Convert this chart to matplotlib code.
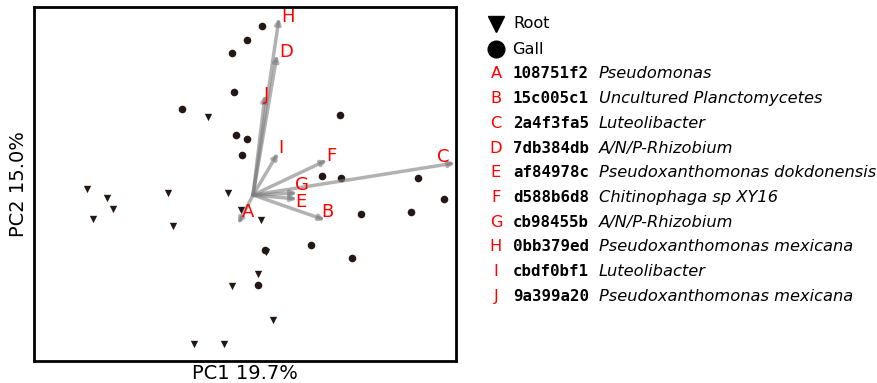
import matplotlib
matplotlib.use('Agg')
import matplotlib.pyplot as plt
from matplotlib.lines import Line2D

# sample scores (PC1, PC2)
gall_x = [0.09, -0.06, -0.21, -0.19, -0.71, -0.17, -0.06, -0.11, 0.87, 0.69, 0.88, 1.65, 1.91, 1.58, 1.08, 0.58, 0.99, 0.12, 0.05]
gall_y = [1.69, 1.55, 1.42, 1.03, 0.86, 0.60, 0.56, 0.40, 0.80, 0.19, 0.17, 0.17, -0.04, -0.17, -0.19, -0.50, -0.63, -0.55, -0.90]
root_x = [-0.45, -1.66, -1.46, -1.40, -1.60, -0.85, -0.80, -0.25, -0.12, 0.08, 0.13, 0.05, -0.21, 0.20, -0.59, -0.29]
root_y = [0.78, 0.06, -0.03, -0.14, -0.24, 0.02, -0.31, 0.02, -0.15, -0.25, -0.57, -0.79, -0.91, -1.25, -1.49, -1.49]

# loadings
letters = ['A', 'B', 'C', 'D', 'E', 'F', 'G', 'H', 'I', 'J']
load_x = [-0.15, 0.72, 2.02, 0.24, 0.44, 0.74, 0.44, 0.26, 0.25, 0.12]
load_y = [-0.29, -0.25, 0.32, 1.40, -0.04, 0.35, 0.02, 1.77, 0.42, 1.00]
label_x = [-0.05, 0.74, 1.90, 0.33, 0.48, 0.78, 0.49, 0.35, 0.28, 0.14]
label_y = [-0.17, -0.17, 0.38, 1.43, -0.07, 0.39, 0.10, 1.78, 0.47, 1.00]
otu_ids = ['108751f2', '15c005c1', '2a4f3fa5', '7db384db', 'af84978c',
           'd588b6d8', 'cb98455b', '0bb379ed', 'cbdf0bf1', '9a399a20']
taxa = ['Pseudomonas', 'Uncultured Planctomycetes', 'Luteolibacter', 'A/N/P-Rhizobium',
        'Pseudoxanthomonas dokdonensis', 'Chitinophaga sp XY16', 'A/N/P-Rhizobium',
        'Pseudoxanthomonas mexicana', 'Luteolibacter', 'Pseudoxanthomonas mexicana']

fig = plt.figure(figsize=(8.77, 3.83), dpi=100)
ax = fig.add_axes([0.0388, 0.0574, 0.4812, 0.9243])

pt_color = '#231815'
ax.scatter(root_x, root_y, marker='v', s=28, color=pt_color, zorder=2, linewidths=0)
ax.scatter(gall_x, gall_y, marker='o', s=30, color=pt_color, zorder=2, linewidths=0)

for i in range(len(letters)):
    ax.annotate('', xy=(load_x[i], load_y[i]), xytext=(0, 0),
                arrowprops=dict(arrowstyle='-|>', color='gray', alpha=0.6, lw=2.5,
                                mutation_scale=8, shrinkA=0, shrinkB=0), zorder=3)
    ax.text(label_x[i], label_y[i], letters[i], color='red', fontsize=13,
            ha='center', va='center', zorder=4)

ax.set_xlim(-2.19, 2.03)
ax.set_ylim(-1.66, 1.88)
ax.set_xticks([])
ax.set_yticks([])
for s in ax.spines.values():
    s.set_linewidth(2)
ax.set_xlabel('PC1 19.7%', fontsize=14, labelpad=2)
ax.set_ylabel('PC2 15.0%', fontsize=14, labelpad=4)

# legend
W, H = 877.0, 383.0
fs = 11.3
fig.add_artist(Line2D([496 / W], [1 - 24 / H], marker='v', color='black', markersize=11, linestyle=''))
fig.add_artist(Line2D([496 / W], [1 - 49 / H], marker='o', color='black', markersize=12, linestyle=''))
fig.text(513 / W, 1 - 24 / H, 'Root', fontsize=11.7, va='center')
fig.text(512 / W, 1 - 49 / H, 'Gall', fontsize=11.7, va='center')
for i in range(len(letters)):
    y = 1 - (74 + i * 24.7) / H
    fig.text(496 / W, y, letters[i], color='red', fontsize=11.7, va='center', ha='center')
    fig.text(513 / W, y, otu_ids[i], family='DejaVu Sans Mono', fontweight='bold',
             fontsize=fs, va='center')
    fig.text(599 / W, y, taxa[i], style='italic', fontsize=11.7, va='center')

fig.savefig('out.png', dpi=100)
